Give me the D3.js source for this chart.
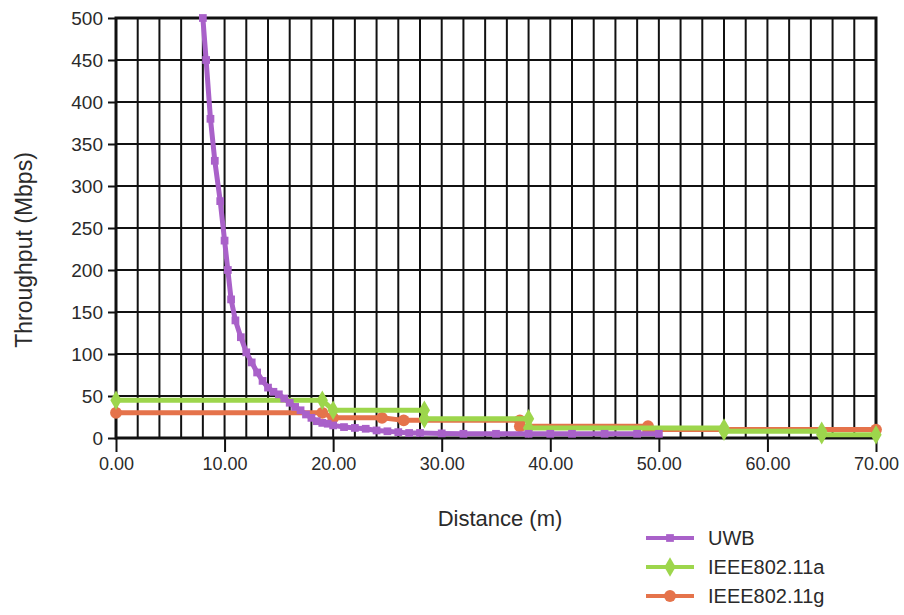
<!DOCTYPE html>
<html>
<head>
<meta charset="utf-8">
<script src="https://cdn.jsdelivr.net/npm/d3@7"></script>
<style>
  body { margin: 0; background: #fff; }
  text { font-family: "Liberation Sans", Arial, sans-serif; fill: #2a2a2a; }
</style>
</head>
<body>
<script>
// distance (m), throughput (Mbps)
var uwbX = [8.0, 8.3, 8.7, 9.1, 9.6, 10.0, 10.3, 10.6, 11.0, 11.5, 12.0, 12.5, 13.0, 13.5, 14.0, 14.5, 15.0, 15.5, 16.0, 16.5, 17.0, 17.5, 18.0, 18.5, 19.0, 19.5, 20, 21, 22, 23, 24, 25, 26, 27, 28, 30, 32, 35, 38, 40, 42, 45, 48, 50];
var uwbY = [500, 450, 380, 330, 282, 235, 200, 165, 140, 120, 102, 90, 78, 68, 60, 55, 52, 47, 42, 37, 33, 28, 24, 20, 18, 17, 15, 13, 12, 11, 9, 8, 7, 6, 6, 5.5, 5, 5, 5, 5, 5, 5, 5, 5];

var aX = [0, 19, 20, 28.4, 28.4, 38, 38, 56, 56, 65, 65, 70];
var aY = [45, 45, 33, 33, 23, 23, 12, 12, 8, 8, 4, 4];

var gX = [0, 19, 20, 24.5, 26.5, 37.2, 37.2, 49, 49, 70];
var gY = [30, 30, 24, 24, 21, 21, 14, 14, 10, 10];

var xTicks = [0, 10, 20, 30, 40, 50, 60, 70];
var yTicks = [0, 50, 100, 150, 200, 250, 300, 350, 400, 450, 500];

var series = [
  {name: "UWB", xs: uwbX, ys: uwbY, color: "#a961c9", marker: "square"},
  {name: "IEEE802.11a", xs: aX, ys: aY, color: "#9dd64c", marker: "diamond"},
  {name: "IEEE802.11g", xs: gX, ys: gY, color: "#e5734b", marker: "circle"}
];

var margin = {top: 18, right: 28, bottom: 177, left: 116},
    width = 904 - margin.left - margin.right,
    height = 615 - margin.top - margin.bottom;

var svg = d3.select("body").append("svg")
    .attr("width", 904)
    .attr("height", 615)
  .append("g")
    .attr("transform", "translate(" + margin.left + "," + margin.top + ")");

var x = d3.scaleLinear().domain([0, 70]).range([0, width]);
var y = d3.scaleLinear().domain([0, 500]).range([height, 0]);

// grid: every 2 m and every 50 Mbps
svg.append("g")
  .selectAll("line")
  .data(d3.range(0, 70.01, 2))
  .enter().append("line")
    .attr("x1", function(d) { return x(d); })
    .attr("x2", function(d) { return x(d); })
    .attr("y1", 0).attr("y2", height)
    .attr("stroke", "#111").attr("stroke-width", 2);

svg.append("g")
  .selectAll("line")
  .data(yTicks)
  .enter().append("line")
    .attr("x1", 0).attr("x2", width)
    .attr("y1", function(d) { return y(d); })
    .attr("y2", function(d) { return y(d); })
    .attr("stroke", "#111").attr("stroke-width", 2);

svg.append("rect")
    .attr("width", width).attr("height", height)
    .attr("fill", "none").attr("stroke", "#111").attr("stroke-width", 3);

// axes
var xAxis = svg.append("g")
    .attr("transform", "translate(0," + height + ")")
    .call(d3.axisBottom(x).tickValues(xTicks).tickFormat(d3.format(".2f")).tickSize(14).tickPadding(5));
xAxis.select(".domain").remove();
xAxis.selectAll("line").attr("stroke", "#111").attr("stroke-width", 2);
xAxis.selectAll("text").style("font-size", "18px").attr("fill", "#333");

var yAxis = svg.append("g")
    .call(d3.axisLeft(y).tickValues(yTicks).tickSize(8).tickPadding(5));
yAxis.select(".domain").remove();
yAxis.selectAll("line").attr("stroke", "#111").attr("stroke-width", 2);
yAxis.selectAll("text").style("font-size", "19px").attr("fill", "#333");

svg.append("text")
    .attr("x", x(35) + 4)
    .attr("y", height + 88)
    .attr("text-anchor", "middle")
    .style("font-size", "22px")
    .text("Distance (m)");

svg.append("text")
    .attr("transform", "translate(-84," + (height / 2 + 22) + ") rotate(-90)")
    .attr("text-anchor", "middle")
    .style("font-size", "23px")
    .text("Throughput (Mbps)");

var symbols = {
  square: d3.symbol().type(d3.symbolSquare).size(60),
  diamond: d3.symbol().type(d3.symbolDiamond).size(110),
  circle: d3.symbol().type(d3.symbolCircle).size(110)
};

var line = d3.line()
    .x(function(d) { return x(d[0]); })
    .y(function(d) { return y(d[1]); });

// draw 11g first, then 11a, then UWB on top
series.slice().reverse().forEach(function(s) {
  var pts = s.xs.map(function(v, i) { return [v, s.ys[i]]; });
  svg.append("path")
      .datum(pts)
      .attr("fill", "none")
      .attr("stroke", s.color)
      .attr("stroke-width", 5)
      .attr("stroke-linejoin", "round")
      .attr("d", line);
  svg.append("g")
    .selectAll("path")
    .data(pts)
    .enter().append("path")
      .attr("d", symbols[s.marker])
      .attr("transform", function(d) { return "translate(" + x(d[0]) + "," + y(d[1]) + ")"; })
      .attr("fill", s.color);
});

// legend
var legend = svg.append("g")
    .attr("transform", "translate(" + (646 - margin.left) + "," + (538 - margin.top) + ")");

series.forEach(function(s, i) {
  var g = legend.append("g").attr("transform", "translate(0," + (i * 29) + ")");
  g.append("line")
      .attr("x1", 0).attr("x2", 48)
      .attr("stroke", s.color).attr("stroke-width", 4);
  g.append("path")
      .attr("d", symbols[s.marker])
      .attr("transform", "translate(24,0)")
      .attr("fill", s.color);
  g.append("text")
      .attr("x", 62)
      .attr("dy", "0.36em")
      .style("font-size", "20px")
      .text(s.name);
});
</script>
</body>
</html>
